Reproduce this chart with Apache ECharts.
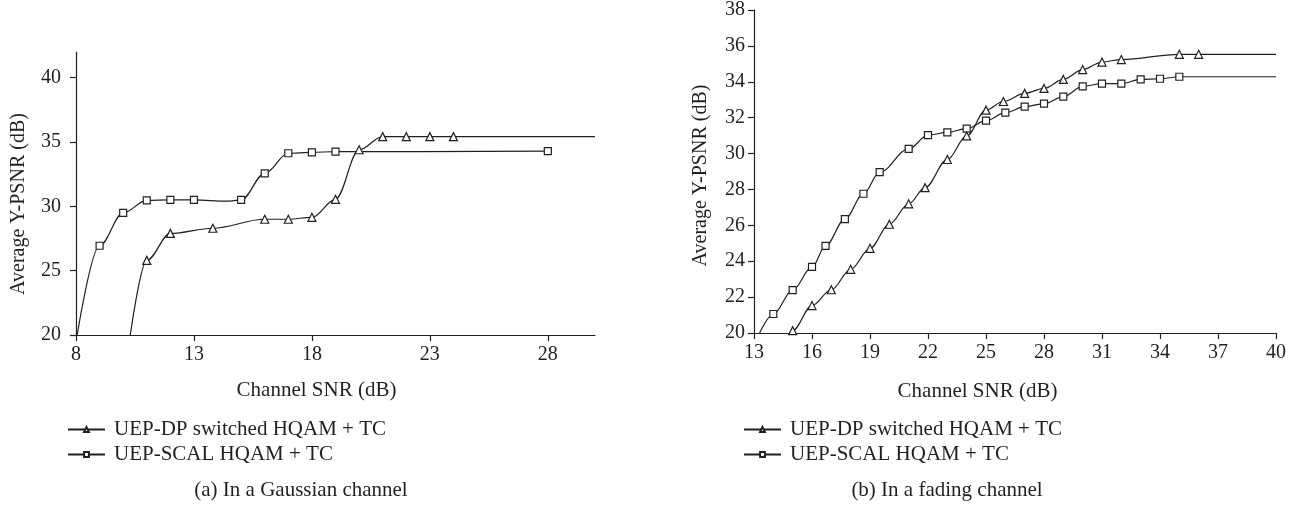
<!DOCTYPE html>
<html>
<head>
<meta charset="utf-8">
<script src="https://cdn.jsdelivr.net/npm/echarts@6/dist/echarts.min.js"></script>
<style>
  html, body { margin: 0; padding: 0; background: #fff; }
  #chart { width: 1304px; height: 506px; }
</style>
</head>
<body>
<div id="chart"></div>
<script>
// Series names shared by both panels
const seriesNames = ['UEP-DP switched HQAM + TC', 'UEP-SCAL HQAM + TC'];

// (a) Gaussian channel
const gaussDpSnr    = [10.3, 11, 12, 13.8, 16, 17, 18, 19, 20, 21, 22, 23, 24, 30];
const gaussDpPsnr   = [20, 25.8, 27.9, 28.3, 29.0, 29.0, 29.15, 30.55, 34.4, 35.42, 35.42, 35.42, 35.42, 35.42];
const gaussDpMark   = [0, 1, 1, 1, 1, 1, 1, 1, 1, 1, 1, 1, 1, 0];
const gaussScSnr    = [8.05, 9, 10, 11, 12, 13, 14.4, 15, 16, 17, 18, 19, 28];
const gaussScPsnr   = [20, 26.94, 29.49, 30.47, 30.5, 30.5, 30.4, 30.5, 32.57, 34.13, 34.2, 34.25, 34.3];
const gaussScMark   = [0, 1, 1, 1, 1, 1, 0, 1, 1, 1, 1, 1, 1];

// (b) Fading channel
const fadeDpSnr  = [14.85, 15, 16, 17, 18, 19, 20, 21, 21.85, 23, 24, 25, 25.9, 27, 28, 29, 30, 31, 32, 35, 36, 40];
const fadeDpPsnr = [20, 20.13, 21.53, 22.41, 23.55, 24.72, 26.06, 27.2, 28.1, 29.67, 30.98, 32.42, 32.9, 33.35, 33.63, 34.13, 34.68, 35.1, 35.24, 35.53, 35.53, 35.53];
const fadeDpMark = [0, 1, 1, 1, 1, 1, 1, 1, 1, 1, 1, 1, 1, 1, 1, 1, 1, 1, 1, 1, 1, 0];
const fadeScSnr  = [13.29, 14, 15, 16, 16.7, 17.7, 18.66, 19.5, 21, 22, 23, 24, 25, 26, 27, 28, 29, 30, 31, 32, 33, 34, 35, 40];
const fadeScPsnr = [20, 21.06, 22.39, 23.68, 24.85, 26.35, 27.76, 28.96, 30.26, 31.03, 31.18, 31.39, 31.83, 32.28, 32.61, 32.78, 33.17, 33.74, 33.9, 33.9, 34.13, 34.17, 34.28, 34.28];
const fadeScMark = [0, 1, 1, 1, 1, 1, 1, 1, 1, 1, 1, 1, 1, 1, 1, 1, 1, 1, 1, 1, 1, 1, 1, 0];

// Tick labels
const gaussXTicks = [8, 13, 18, 23, 28];
const gaussYTicks = [20, 25, 30, 35, 40];

const ink = '#231f20';
const serif = '"Liberation Serif", "DejaVu Serif", serif';

function points(xs, ys, marks) {
  return xs.map((x, i) => marks[i] ? [x, ys[i]] : { value: [x, ys[i]], symbol: 'none' });
}

function lineSeries(name, symbol, size, data, idx) {
  return {
    name: name,
    type: 'line',
    xAxisIndex: idx,
    yAxisIndex: idx,
    data: data,
    smooth: 0.35,
    smoothMonotone: 'x',
    symbol: symbol,
    symbolSize: size,
    showAllSymbol: true,
    lineStyle: { color: ink, width: 1.2 },
    itemStyle: { color: '#fff', borderColor: ink, borderWidth: 1.2 },
    emphasis: { disabled: true },
    z: symbol === 'rect' ? 3 : 4
  };
}

function tick(custom) {
  const t = { show: true, length: 6, lineStyle: { color: ink, width: 1.2 } };
  if (custom) t.customValues = custom;
  return t;
}

function label(margin, custom) {
  const l = { color: ink, fontFamily: serif, fontSize: 20, margin: margin };
  if (custom) l.customValues = custom;
  return l;
}

function nameStyle(size, padding) {
  return { color: ink, fontFamily: serif, fontSize: size, padding: padding };
}

function axis(extra) {
  return Object.assign({
    type: 'value',
    nameLocation: 'middle',
    axisLine: { show: true, onZero: false, lineStyle: { color: ink, width: 1.2 } },
    splitLine: { show: false }
  }, extra);
}

const chart = echarts.init(document.getElementById('chart'));

const legendBase = {
  orient: 'vertical',
  padding: 0,
  itemWidth: 37,
  itemHeight: 6,
  itemGap: 4,
  selectedMode: false,
  textStyle: { color: ink, fontFamily: serif, fontSize: 21, padding: [0, 0, 0, 4] },
  data: seriesNames
};

chart.setOption({
  animation: false,
  backgroundColor: '#fff',
  grid: [
    { left: 76, top: 52, width: 519, height: 283 },
    { left: 754, top: 9, width: 522, height: 324 }
  ],
  xAxis: [
    axis({
      gridIndex: 0, min: 8, max: 30, interval: 5,
      name: 'Channel SNR (dB)', nameGap: 45, nameTextStyle: nameStyle(21, [0, 38, 0, 0]),
      axisTick: tick(gaussXTicks), axisLabel: label(10, gaussXTicks)
    }),
    axis({
      gridIndex: 1, min: 13, max: 40, interval: 3,
      name: 'Channel SNR (dB)', nameGap: 48, nameTextStyle: nameStyle(21, [0, 75, 0, 0]),
      axisTick: tick(), axisLabel: label(10)
    })
  ],
  yAxis: [
    axis({
      gridIndex: 0, min: 20, max: 42, interval: 5,
      name: 'Average Y-PSNR (dB)', nameGap: 47, nameTextStyle: nameStyle(20, [0, 21, 0, 0]),
      axisTick: tick(gaussYTicks), axisLabel: label(15, gaussYTicks)
    }),
    axis({
      gridIndex: 1, min: 20, max: 38, interval: 2,
      name: 'Average Y-PSNR (dB)', nameGap: 43, nameTextStyle: nameStyle(20, [0, 8, 0, 0]),
      axisTick: tick(), axisLabel: label(9)
    })
  ],
  legend: [
    Object.assign({}, legendBase, { left: 67, top: 419 }),
    Object.assign({}, legendBase, { left: 743, top: 419 })
  ],
  graphic: [
    { type: 'text', x: 301, y: 490, style: { text: '(a) In a Gaussian channel', fill: ink, font: '21px ' + serif, align: 'center', verticalAlign: 'middle' } },
    { type: 'text', x: 947, y: 490, style: { text: '(b) In a fading channel', fill: ink, font: '21px ' + serif, align: 'center', verticalAlign: 'middle' } }
  ],
  series: [
    lineSeries(seriesNames[0], 'triangle', 8, points(gaussDpSnr, gaussDpPsnr, gaussDpMark), 0),
    lineSeries(seriesNames[1], 'rect', 7, points(gaussScSnr, gaussScPsnr, gaussScMark), 0),
    lineSeries(seriesNames[0], 'triangle', 8, points(fadeDpSnr, fadeDpPsnr, fadeDpMark), 1),
    lineSeries(seriesNames[1], 'rect', 7, points(fadeScSnr, fadeScPsnr, fadeScMark), 1)
  ]
});
</script>
</body>
</html>
